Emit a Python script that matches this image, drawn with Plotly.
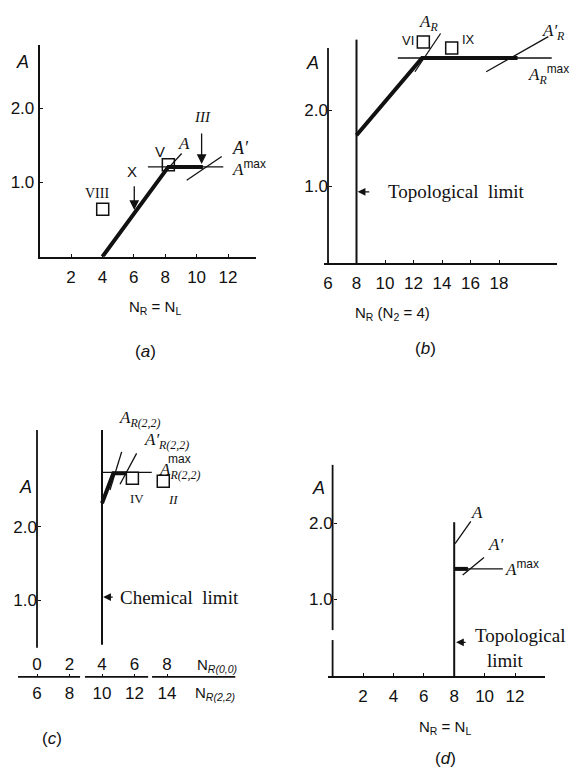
import plotly.graph_objects as go

W, H = 572, 769
SANS = "Liberation Sans, Arial, sans-serif"
SERIF = "Liberation Serif, Times New Roman, serif"
INK = "#111111"

# ---------------- data ----------------
# panel (a)
a_xticks = [2, 4, 6, 8, 10, 12]
a_yticks = [1.0, 2.0]
a_curve_x = [4.0, 8.2, 10.4]
a_curve_y = [0.0, 1.21, 1.21]
a_amax_x = [6.9, 11.7]
a_amax_y = [1.21, 1.21]
a_A_x = [8.1, 9.05]
a_A_y = [1.17, 1.39]
a_Ap_x = [9.37, 11.6]
a_Ap_y = [1.03, 1.35]
a_sq_x = [4.02, 8.2]
a_sq_y = [0.64, 1.24]
a_arrow_x = [6.03, 10.32]
a_arrow_tail = [0.97, 1.68]
a_arrow_head = [0.63, 1.25]

# panel (b)
b_xticks = [6, 8, 10, 12, 14, 16, 18]
b_yticks = [1.0, 2.0]
b_yaxis_x = [6, 6]
b_yaxis_y = [0.0, 2.81]
b_limit_x = [8, 8]
b_limit_y = [0.0, 2.92]
b_curve_x = [8.0, 12.6, 19.3]
b_curve_y = [1.67, 2.68, 2.68]
b_amax_x = [10.9, 21.7]
b_amax_y = [2.68, 2.68]
b_AR_x = [12.1, 13.9]
b_AR_y = [2.50, 3.0]
b_ARp_x = [17.1, 21.46]
b_ARp_y = [2.50, 2.96]
b_sq_x = [12.69, 14.68]
b_sq_y = [2.89, 2.81]
b_lim_arrow = [9.0, 8.08, 0.93]

# panel (c)
c_top_ticks = [0, 2, 4, 6, 8]            # N_R(0,0)
c_bot_labels = ["6", "8", "10", "12", "14"]  # N_R(2,2)
c_yticks = [1.0, 2.0]
c_left_x = [0, 0]
c_left_y = [0.35, 3.32]
c_limit_x = [4, 4]
c_limit_y = [0.39, 3.32]
c_base_segments = [[-1.17, 2.65], [2.95, 6.84], [7.08, 12.2]]
c_base_y = -0.05
c_curve_x = [4.0, 4.7, 5.52]
c_curve_y = [2.32, 2.73, 2.73]
c_amax_x = [4.0, 7.06]
c_amax_y = [2.74, 2.74]
c_AR_x = [4.49, 5.21]
c_AR_y = [2.50, 3.02]
c_ARp_x = [5.11, 6.13]
c_ARp_y = [2.58, 3.0]
c_sq_x = [5.87, 7.77]
c_sq_y = [2.66, 2.62]
c_lim_arrow = [4.75, 4.07, 1.04]

# panel (d)
d_xticks = [2, 4, 6, 8, 10, 12]
d_yticks = [1.0, 2.0]
d_yaxis_segments = [[0.0, 0.47], [0.6, 2.76]]
d_limit_x = [8, 8]
d_limit_y = [0.0, 2.01]
d_curve_x = [8.0, 8.9]
d_curve_y = [1.40, 1.40]
d_amax_x = [8.0, 11.2]
d_amax_y = [1.40, 1.40]
d_A_x = [8.06, 9.09]
d_A_y = [1.73, 2.02]
d_Ap_x = [8.56, 9.96]
d_Ap_y = [1.32, 1.55]
d_lim_arrow = [8.85, 8.12, 0.44]


# ---------------- helpers ----------------
def xax(px_lo, px_hi, px_ref, v_ref, ppu):
    return dict(domain=[px_lo / W, px_hi / W],
                range=[v_ref + (px_lo - px_ref) / ppu, v_ref + (px_hi - px_ref) / ppu])


def yax(px_bot, px_top, px_ref, v_ref, ppu):
    return dict(domain=[1 - px_bot / H, 1 - px_top / H],
                range=[v_ref + (px_ref - px_bot) / ppu, v_ref + (px_ref - px_top) / ppu])


tickfont = dict(family=SANS, size=17, color=INK)
common = dict(showgrid=False, zeroline=False, tickfont=tickfont, ticklen=3,
              tickcolor=INK, tickwidth=1.2, linecolor=INK, linewidth=1.8)

fig = go.Figure()


def line(x, y, xa, ya, w=1.3):
    fig.add_trace(go.Scatter(x=x, y=y, xaxis=xa, yaxis=ya, mode="lines",
                             line=dict(color=INK, width=w), hoverinfo="skip",
                             showlegend=False))


def squares(x, y, xa, ya):
    fig.add_trace(go.Scatter(x=x, y=y, xaxis=xa, yaxis=ya, mode="markers",
                             marker=dict(symbol="square-open", size=12,
                                         color=INK, line=dict(color=INK, width=1.5)),
                             cliponaxis=False, hoverinfo="skip", showlegend=False))


# panel (a)
line(a_curve_x, a_curve_y, "x", "y", 4)
line(a_amax_x, a_amax_y, "x", "y")
line(a_A_x, a_A_y, "x", "y")
line(a_Ap_x, a_Ap_y, "x", "y")
squares(a_sq_x, a_sq_y, "x", "y")

# panel (b)
line(b_yaxis_x, b_yaxis_y, "x2", "y2", 1.8)
line(b_limit_x, b_limit_y, "x2", "y2", 2)
line(b_curve_x, b_curve_y, "x2", "y2", 4)
line(b_amax_x, b_amax_y, "x2", "y2")
line(b_AR_x, b_AR_y, "x2", "y2")
line(b_ARp_x, b_ARp_y, "x2", "y2")
squares(b_sq_x, b_sq_y, "x2", "y2")

# panel (c)
line(c_left_x, c_left_y, "x3", "y3", 1.8)
line(c_limit_x, c_limit_y, "x3", "y3", 2)
for seg in c_base_segments:
    line(seg, [c_base_y, c_base_y], "x5", "y3", 1.8)
line(c_curve_x, c_curve_y, "x3", "y3", 4)
line(c_amax_x, c_amax_y, "x3", "y3")
line(c_AR_x, c_AR_y, "x3", "y3")
line(c_ARp_x, c_ARp_y, "x3", "y3")
squares(c_sq_x, c_sq_y, "x3", "y3")

# panel (d)
for seg in d_yaxis_segments:
    line([0, 0], seg, "x4", "y4", 1.8)
line(d_limit_x, d_limit_y, "x4", "y4", 2)
line(d_curve_x, d_curve_y, "x4", "y4", 4)
line(d_amax_x, d_amax_y, "x4", "y4")
line(d_A_x, d_A_y, "x4", "y4")
line(d_Ap_x, d_Ap_y, "x4", "y4")

# ---------------- axes ----------------
ax_a_x = xax(39.6, 256, 39.6, 0, 15.7)
ax_a_y = yax(256.7, 45, 256.7, 0, 74.2)
ax_b_x = xax(324, 557, 328, 6, 14.25)
ax_b_y = yax(263, 25, 263, 0, 76.5)
ax_c_x = xax(12, 252, 37, 0, 16.25)
ax_c_y = yax(681, 415, 673.3, 0, 73.3)
ax_d_x = xax(328, 545, 332.6, 0, 15.2)
ax_d_y = yax(676, 455, 676, 0, 76.5)

layout = dict(
    width=W, height=H, margin=dict(l=0, r=0, t=0, b=0),
    paper_bgcolor="white", plot_bgcolor="rgba(0,0,0,0)", showlegend=False,
    xaxis=dict(**common, **ax_a_x, anchor="y", showline=True, ticks="inside",
               tickvals=a_xticks, ticklabelstandoff=4),
    yaxis=dict(**common, **ax_a_y, anchor="x", showline=True, ticks="inside",
               tickvals=a_yticks, tickformat=".1f", ticklabelstandoff=0),
    xaxis2=dict(**common, **ax_b_x, anchor="y2", showline=True, ticks="inside",
                tickvals=b_xticks, ticklabelstandoff=4),
    yaxis2=dict(**common, **ax_b_y, anchor="free", position=328 / W, showline=False,
                ticks="inside", tickvals=b_yticks, tickformat=".1f"),
    xaxis3=dict(**common, **ax_c_x, anchor="y3", showline=False, ticks="",
                tickvals=c_top_ticks, ticktext=c_bot_labels, ticklabelstandoff=0),
    xaxis5=dict(**common, range=ax_c_x["range"], overlaying="x3", anchor="free",
                position=1 - 677 / H, side="top", showline=False, ticks="outside",
                tickvals=c_top_ticks, ticklabelstandoff=-3),
    yaxis3=dict(**common, **ax_c_y, anchor="free", position=37 / W, showline=False,
                ticks="inside", tickvals=c_yticks, tickformat=".1f"),
    xaxis4=dict(**common, **ax_d_x, anchor="y4", showline=True, ticks="inside",
                tickvals=d_xticks, ticklabelstandoff=4),
    yaxis4=dict(**common, **ax_d_y, anchor="free", position=332.6 / W, showline=False,
                ticks="inside", tickvals=d_yticks, tickformat=".1f"),
)

anns = []


def ann(text, px, py, size=17, family=SERIF, xanchor="center", yanchor="middle"):
    anns.append(dict(text=text, x=px / W, y=1 - py / H, xref="paper", yref="paper",
                     xanchor=xanchor, yanchor=yanchor, showarrow=False,
                     font=dict(family=family, size=size, color=INK)))


def arrow(xa, ya, x_tail, x_head, y_tail, y_head, size=0.9):
    anns.append(dict(text="", x=x_head, y=y_head, ax=x_tail, ay=y_tail,
                     xref=xa, yref=ya, axref=xa, ayref=ya, showarrow=True,
                     arrowhead=2, arrowsize=size, arrowwidth=1.3, arrowcolor=INK,
                     standoff=0, startstandoff=0))


MAX = '<span style="font-family:Liberation Sans">max</span>'

# (a)
ann("<i>A</i>", 22, 62, 18, SANS)
ann("VIII", 97, 193, 14)
ann("X", 132, 172, 15, SANS)
ann("V", 160, 152, 15, SANS)
ann("<i>A</i>", 184, 143, 17)
ann("<i>III</i>", 202, 117, 15)
ann("<i>A′</i>", 240, 148, 18)
ann("<i>A</i><sup>" + MAX + "</sup>", 230, 168, 17, xanchor="left")
ann("N<sub>R</sub> = N<sub>L</sub>", 155, 307, 15, SANS)
ann("(<i>a</i>)", 145, 351, 17, SANS)
for x, t, h in zip(a_arrow_x, a_arrow_tail, a_arrow_head):
    arrow("x", "y", x, x, t, h, 1.5)

# (b)
ann("<i>A</i>", 312, 63, 18, SANS)
ann("<i>A<sub>R</sub></i>", 428, 23, 17)
ann("VI", 408, 40, 13, SANS)
ann("IX", 468, 39, 13, SANS)
ann("<i>A′<sub>R</sub></i>", 553, 32, 17)
ann("<i>A<sub>R</sub></i><sup>" + MAX + "</sup>", 571, 74, 17, xanchor="right")
ann("Topological  limit", 386, 192, 19, xanchor="left")
arrow("x2", "y2", b_lim_arrow[0], b_lim_arrow[1], b_lim_arrow[2], b_lim_arrow[2], 1.2)
ann("N<sub>R</sub> (N<sub>2</sub> = 4)", 392, 313, 15, SANS)
ann("(<i>b</i>)", 425, 348, 17, SANS)

# (c)
ann("<i>A</i>", 25, 487, 18, SANS)
ann("<i>A<sub>R(2,2)</sub></i>", 117, 419, 17, xanchor="left")
ann("<i>A′<sub>R(2,2)</sub></i>", 142, 441, 17, xanchor="left")
ann("<i>A<sub>R(2,2)</sub></i>", 157, 471, 17, xanchor="left")
ann("max", 179, 459, 12, SANS)
ann("IV", 137, 498, 13)
ann("<i>II</i>", 173, 500, 13)
ann("Chemical  limit", 118, 597, 19, xanchor="left")
arrow("x3", "y3", c_lim_arrow[0], c_lim_arrow[1], c_lim_arrow[2], c_lim_arrow[2], 1.2)
ann("N<sub><i>R(0,0)</i></sub>", 195, 665, 15, SANS, xanchor="left")
ann("N<sub><i>R(2,2)</i></sub>", 193, 693, 15, SANS, xanchor="left")
ann("(<i>c</i>)", 52, 738, 17, SANS)

# (d)
ann("<i>A</i>", 318, 488, 18, SANS)
ann("<i>A</i>", 477, 512, 17)
ann("<i>A′</i>", 495, 544, 17)
ann("<i>A</i><sup>" + MAX + "</sup>", 503, 568, 17, xanchor="left")
ann("Topological", 520, 635, 19)
ann("limit", 505, 660, 19)
arrow("x4", "y4", d_lim_arrow[0], d_lim_arrow[1], d_lim_arrow[2], d_lim_arrow[2], 1.2)
ann("N<sub>R</sub> = N<sub>L</sub>", 445, 727, 15, SANS)
ann("(<i>d</i>)", 445, 758, 17, SANS)

layout["annotations"] = anns
fig.update_layout(**layout)
fig.write_html("out.html")
